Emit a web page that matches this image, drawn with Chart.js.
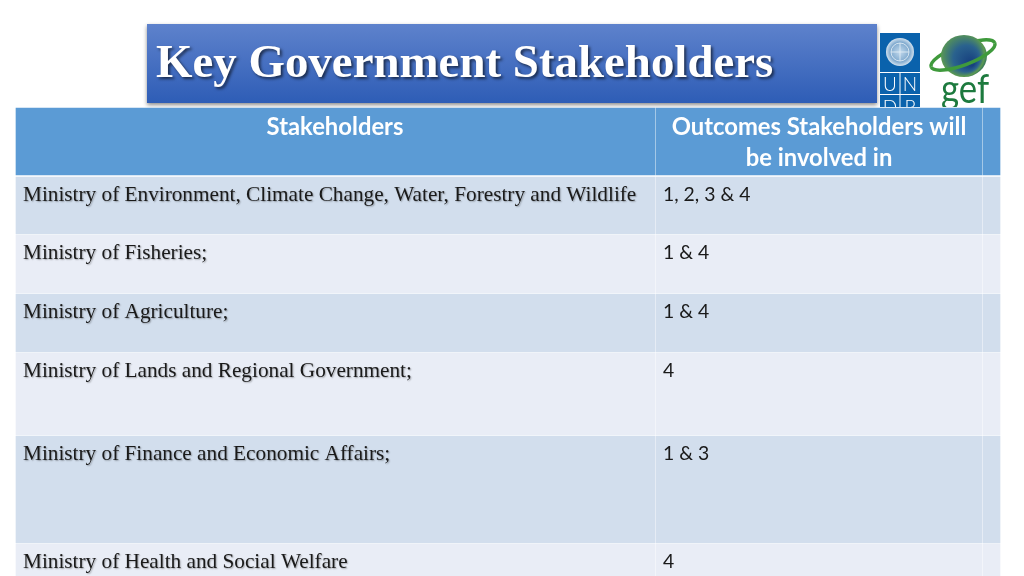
<!DOCTYPE html>
<html>
<head>
<meta charset="utf-8">
<style>html,body{margin:0;padding:0;background:#fff;overflow:hidden}canvas{display:block}</style>
<script src="https://cdn.jsdelivr.net/npm/chart.js@4"></script>
</head>
<body>
<canvas id="c" width="1024" height="576"></canvas>
<script>
const slideTitle = "Key Government Stakeholders";
const headerLeft = ["Stakeholders"];
const headerRight = ["Outcomes Stakeholders will", "be involved in"];
const stakeholders = [
  "Ministry of Environment, Climate Change, Water, Forestry and Wildlife",
  "Ministry of Fisheries;",
  "Ministry of Agriculture;",
  "Ministry of Lands and Regional Government;",
  "Ministry of Finance and Economic Affairs;",
  "Ministry of Health and Social Welfare"
];
const outcomes = ["1, 2, 3 & 4", "1 & 4", "1 & 4", "4", "1 & 3", "4"];
const columnStarts = [16, 656, 983];
const columnEnds = [655, 982, 1000];
const rowTops = [108, 177, 235, 294, 353, 436, 544];
const rowBottoms = [175, 234, 293, 352, 435, 543, 576];
const rowColours = ["#5B9BD5", "#D2DEED", "#E9EDF6", "#D2DEED", "#E9EDF6", "#D2DEED", "#E9EDF6"];

const datasets = rowTops.map((top, r) => ({
  label: r === 0 ? "Header" : stakeholders[r - 1],
  data: columnStarts.map((s, i) => ({ y: (top + rowBottoms[r]) / 2, x: [s, columnEnds[i]] })),
  backgroundColor: rowColours[r],
  borderWidth: 0,
  barThickness: rowBottoms[r] - top,
  grouped: false
}));

const slidePlugin = {
  id: "slide",
  beforeDatasetsDraw(chart) {
    const c = chart.ctx;
    c.save();
    // title panel
    c.shadowColor = "rgba(0,0,0,.45)"; c.shadowBlur = 4; c.shadowOffsetX = 0; c.shadowOffsetY = 2;
    const g = c.createLinearGradient(0, 24, 0, 103);
    g.addColorStop(0, "#5E82CC"); g.addColorStop(1, "#2E5DB6");
    c.fillStyle = g; c.fillRect(147, 24, 730, 79);
    c.restore();
    // UNDP logo
    c.save();
    c.beginPath(); c.rect(870, 20, 154, 87); c.clip();
    c.fillStyle = "#0A62AC"; c.fillRect(880, 33, 40, 75);
    c.strokeStyle = "#fff"; c.lineWidth = 1;
    c.beginPath();
    c.moveTo(880, 72.5); c.lineTo(920, 72.5);
    c.moveTo(880, 94.5); c.lineTo(920, 94.5);
    c.moveTo(900, 72.5); c.lineTo(900, 108);
    c.stroke();
    const em = c.createRadialGradient(900, 52, 2, 900, 52, 15);
    em.addColorStop(0, "#B4CFE6"); em.addColorStop(.6, "#7FA9CE"); em.addColorStop(1, "#E4EEF6");
    c.fillStyle = em; c.beginPath(); c.arc(900, 52, 14, 0, Math.PI * 2); c.fill();
    c.strokeStyle = "#E8F1F8"; c.lineWidth = 0.8;
    c.beginPath(); c.arc(900, 52, 9, 0, Math.PI * 2); c.moveTo(891, 52); c.lineTo(909, 52); c.moveTo(900, 43); c.lineTo(900, 61); c.stroke();
    c.fillStyle = "#fff"; c.font = "300 19px Lato"; c.textAlign = "center"; c.textBaseline = "alphabetic";
    c.fillText("U", 890, 91); c.fillText("N", 910, 91);
    c.fillText("D", 890, 114); c.fillText("P", 910, 114);
    // GEF globe
    const ring = (a, b) => {
      c.beginPath(); c.ellipse(963, 55, 34, 10, -0.36, a, b);
      c.strokeStyle = "#3F9A3C"; c.lineWidth = 3.5; c.stroke();
    };
    ring(Math.PI, Math.PI * 2);
    const gl = c.createRadialGradient(972, 64, 2, 960, 52, 27);
    gl.addColorStop(0, "#17407F"); gl.addColorStop(.45, "#2A628E"); gl.addColorStop(.8, "#5C9A50"); gl.addColorStop(1, "#3F7F5A");
    c.fillStyle = gl; c.beginPath(); c.ellipse(964, 56, 23, 21, 0, 0, Math.PI * 2); c.fill();
    ring(0, Math.PI);
    c.save();
    c.translate(941, 103); c.scale(0.87, 1);
    c.fillStyle = "#1D7A3E"; c.font = "40px Lato"; c.textAlign = "left";
    c.fillText("gef", 0, 0);
    c.restore();
    c.restore();
  },
  afterDatasetsDraw(chart) {
    const c = chart.ctx;
    c.save();
    c.textBaseline = "alphabetic";
    // title
    c.save();
    c.shadowColor = "rgba(0,0,0,.6)"; c.shadowBlur = 3; c.shadowOffsetX = 2; c.shadowOffsetY = 2;
    c.fillStyle = "#fff"; c.font = "bold 46.9px 'Liberation Serif'"; c.textAlign = "left";
    c.fillText(slideTitle, 156, 77);
    c.restore();
    // header
    c.fillStyle = "#fff"; c.font = "bold 23.8px Lato"; c.textAlign = "center";
    c.fillText(headerLeft[0], 335, 135);
    headerRight.forEach((t, i) => c.fillText(t, 819, 135 + 31 * i));
    // body rows
    rowTops.slice(1).forEach((top, i) => {
      c.save();
      c.shadowColor = "rgba(0,0,0,.3)"; c.shadowBlur = 1.5; c.shadowOffsetX = 1; c.shadowOffsetY = 1;
      c.fillStyle = "#1a1a1a"; c.font = "21.25px 'Liberation Serif'"; c.textAlign = "left";
      c.fillText(stakeholders[i], 23, top + 24);
      c.restore();
      c.fillStyle = "#1a1a1a"; c.font = "19.4px Lato"; c.textAlign = "left";
      c.fillText(outcomes[i], 663, top + 24);
    });
    c.restore();
  }
};

new Chart(document.getElementById("c"), {
  type: "bar",
  data: { datasets },
  options: {
    indexAxis: "y",
    responsive: false,
    animation: false,
    layout: { padding: 0 },
    plugins: { legend: { display: false }, title: { display: false }, tooltip: { enabled: false } },
    scales: {
      x: { type: "linear", min: 0, max: 1024, display: false },
      y: { type: "linear", min: 0, max: 576, reverse: true, display: false, offset: false }
    }
  },
  plugins: [slidePlugin]
});
</script>
</body>
</html>
